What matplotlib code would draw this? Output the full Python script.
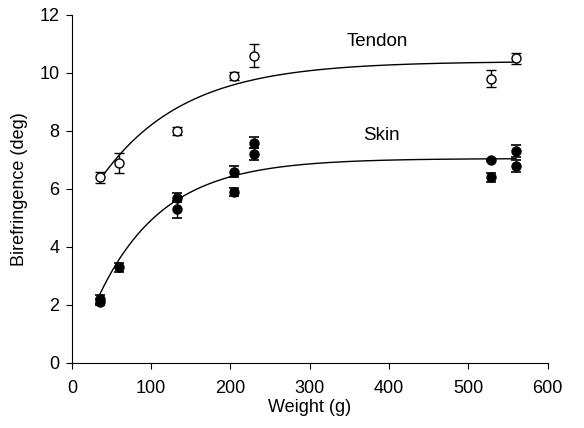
import numpy as np
import matplotlib
matplotlib.use("Agg")
import matplotlib.pyplot as plt

plt.rcParams['font.family'] = ['Liberation Sans', 'DejaVu Sans']

# Tendon data (open circles)
tendon_w = [35, 60, 133, 205, 230, 528, 560]
tendon_b = [6.4, 6.9, 8.0, 9.9, 10.6, 9.8, 10.5]
tendon_err = [0.2, 0.35, 0.15, 0.15, 0.4, 0.3, 0.2]

# Skin data (filled circles)
skin_w = [35, 35, 60, 133, 133, 205, 205, 230, 230, 528, 528, 560, 560]
skin_b = [2.2, 2.1, 3.3, 5.7, 5.3, 6.6, 5.9, 7.6, 7.2, 7.0, 6.4, 7.3, 6.8]
skin_err = [0.15, 0.1, 0.15, 0.15, 0.3, 0.2, 0.15, 0.2, 0.2, 0.05, 0.15, 0.2, 0.2]

# fitted saturation curves  y = a - b*exp(-x/c)
tendon_fit = (10.4, 5.74, 104)
skin_fit = (7.05, 7.2, 82)

fig = plt.figure(figsize=(5.84, 4.28), dpi=100)
ax = fig.add_axes([0.123, 0.152, 0.815, 0.813])

xs = np.linspace(35, 560, 300)
for a, b, c in (tendon_fit, skin_fit):
    ax.plot(xs, a - b * np.exp(-xs / c), color='black', lw=1.0)

ax.errorbar(tendon_w, tendon_b, yerr=tendon_err, fmt='o', mfc='white',
            mec='black', ecolor='black', ms=6.5, capsize=3.5, elinewidth=1.0,
            capthick=1.2, mew=1.0, zorder=3)
ax.errorbar(skin_w, skin_b, yerr=skin_err, fmt='o', mfc='black',
            mec='black', ecolor='black', ms=6.5, capsize=3.5, elinewidth=1.0,
            capthick=1.2, zorder=3)

ax.text(385, 11.1, 'Tendon', fontsize=13.5, ha='center', va='center')
ax.text(390, 7.86, 'Skin', fontsize=13.5, ha='center', va='center')

ax.set_xlim(0, 600)
ax.set_ylim(0, 12)
ax.set_xticks(range(0, 601, 100))
ax.set_yticks(range(0, 13, 2))
ax.spines['top'].set_visible(False)
ax.spines['right'].set_visible(False)
ax.tick_params(direction='out', labelsize=13, length=4)
ax.tick_params(axis='x', pad=8)
ax.tick_params(axis='y', pad=5)
ax.set_xlabel('Weight (g)', fontsize=13, labelpad=2)
ax.set_ylabel('Birefringence (deg)', fontsize=13, labelpad=8)

fig.savefig('out.png', dpi=100)
